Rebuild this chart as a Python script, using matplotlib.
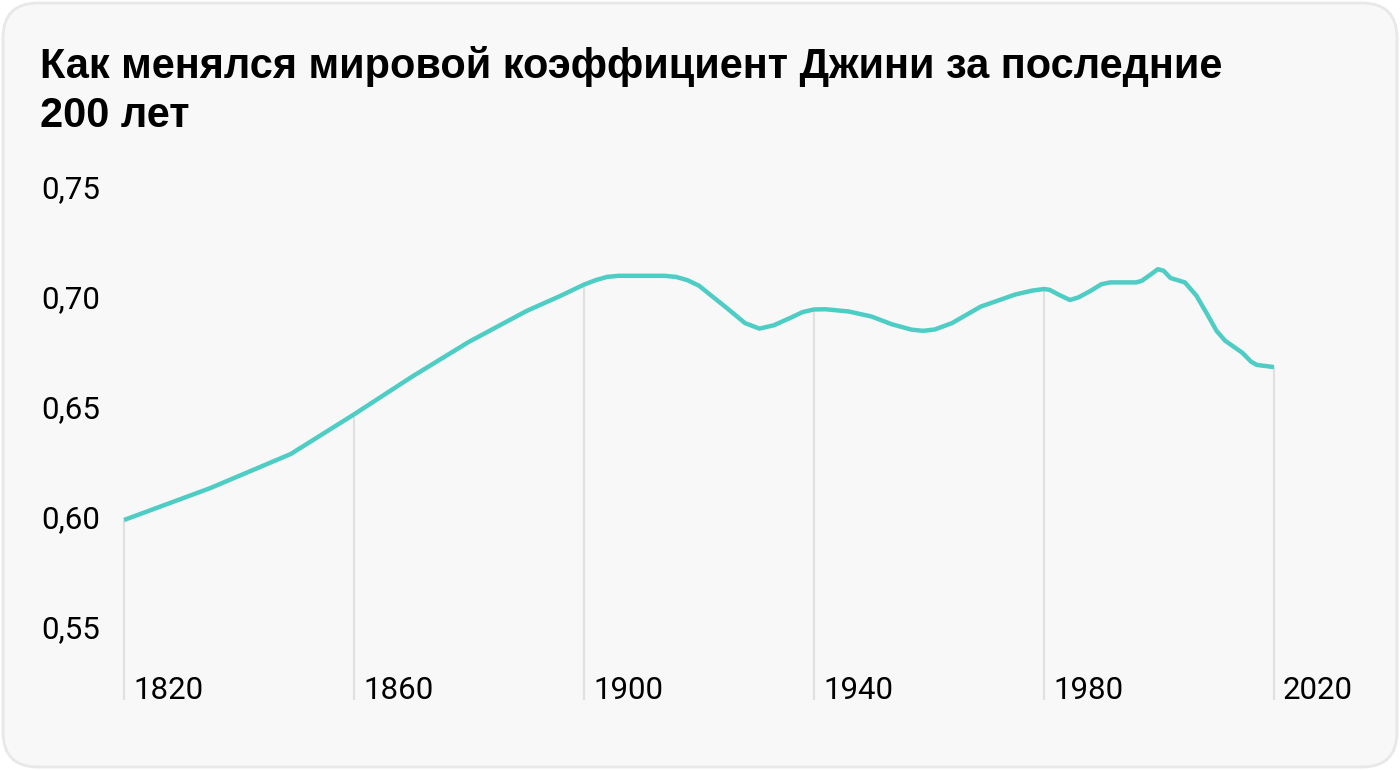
import matplotlib
matplotlib.use("Agg")
import matplotlib.pyplot as plt
import matplotlib.transforms as mtransforms
from matplotlib.patches import FancyBboxPatch
import numpy as np

title_lines = ["Как менялся мировой коэффициент Джини за последние", "200 лет"]
years = [1820, 1835, 1849, 1860, 1870, 1880, 1890, 1896, 1900, 1902, 1904,
         1906, 1914, 1916, 1918, 1920, 1925, 1928, 1930.5, 1933, 1936,
         1938, 1940, 1942, 1946, 1950, 1953.5, 1957, 1959, 1961, 1964,
         1969, 1975, 1978, 1980, 1981, 1982.5, 1984.5, 1986, 1988, 1990,
         1991.5, 1996, 1997, 1998.5, 1999.8, 2000.8, 2002, 2004.5, 2006.5,
         2008.5, 2010, 2011.5, 2014.5, 2016, 2017, 2020]
gini = [0.600, 0.6145, 0.630, 0.648, 0.665, 0.681, 0.695, 0.702, 0.707,
        0.709, 0.7105, 0.711, 0.711, 0.7105, 0.709, 0.7065, 0.696, 0.6895,
        0.687, 0.6885, 0.692, 0.6945, 0.6957, 0.6958, 0.6948, 0.6925,
        0.689, 0.6865, 0.686, 0.6866, 0.6895, 0.697, 0.7025, 0.7043,
        0.705, 0.7046, 0.7025, 0.700, 0.7012, 0.704, 0.7072, 0.708, 0.708,
        0.7087, 0.7115, 0.714, 0.7133, 0.710, 0.708, 0.702, 0.693, 0.686,
        0.6815, 0.676, 0.672, 0.6705, 0.6695]
x_ticks = [1820, 1860, 1900, 1940, 1980, 2020]
y_ticks = [0.55, 0.60, 0.65, 0.70, 0.75]
y_labels = ["0,55", "0,60", "0,65", "0,70", "0,75"]

W, H = 1400, 770
fig = plt.figure(figsize=(W / 100, H / 100), dpi=100)
fig.patch.set_facecolor("white")

card = FancyBboxPatch((3 / W, 3 / H), (W - 6) / W, (H - 6) / H,
                      boxstyle="round,pad=0,rounding_size=0.025",
                      transform=fig.transFigure, facecolor="#f8f8f8",
                      edgecolor="#e8e8e8", linewidth=2, mutation_aspect=W / H,
                      zorder=-10)
fig.patches.append(card)

TFONT = ["Liberation Sans", "DejaVu Sans"]
FONT = ["Roboto", "DejaVu Sans"]
fig.text(40 / W, 1 - 78 / H, title_lines[0], fontsize=29.9, fontweight="bold",
         family=TFONT, color="#000000", ha="left", va="baseline")
fig.text(40 / W, 1 - 127 / H, title_lines[1], fontsize=29.9, fontweight="bold",
         family=TFONT, color="#000000", ha="left", va="baseline")

# axes: 1820 -> px 124, 2020 -> px 1274 ; 0.75 -> y 190, bottom y 700
y_top_val = 0.75
px_per_unit = 2200.0
y_bot_val = y_top_val - (700 - 190) / px_per_unit
ax = fig.add_axes([124 / W, (H - 700) / H, 1150 / W, 510 / H])
ax.set_xlim(1820, 2020)
ax.set_ylim(y_bot_val, y_top_val)
ax.patch.set_alpha(0)
for s in ax.spines.values():
    s.set_visible(False)
ax.set_xticks([])
ax.set_yticks([])

# drop lines at tick years
for yr in x_ticks:
    v = np.interp(yr, years, gini)
    ax.plot([yr, yr], [y_bot_val, v], color="#e0e0e0", lw=1.5,
            zorder=1, clip_on=False, solid_capstyle="butt")

ax.plot(years, gini, color="#4ecdc4", lw=3.2, zorder=3, clip_on=False,
        solid_joinstyle="round", solid_capstyle="butt")

trans_x = mtransforms.blended_transform_factory(ax.transData, ax.transAxes)
for yr in x_ticks:
    t = mtransforms.offset_copy(trans_x, fig=fig, x=9, y=1, units="dots")
    ax.text(yr, 0, str(yr), transform=t, ha="left", va="baseline",
            fontsize=22.5, family=FONT, color="#000000")

trans_y = mtransforms.blended_transform_factory(fig.transFigure, ax.transData)
for v, lab in zip(y_ticks, y_labels):
    fig.text(41 / W, v, lab, transform=trans_y, ha="left", va="center",
             fontsize=22.5, family=FONT, color="#000000")

fig.savefig("out.png", dpi=100, facecolor="white")
